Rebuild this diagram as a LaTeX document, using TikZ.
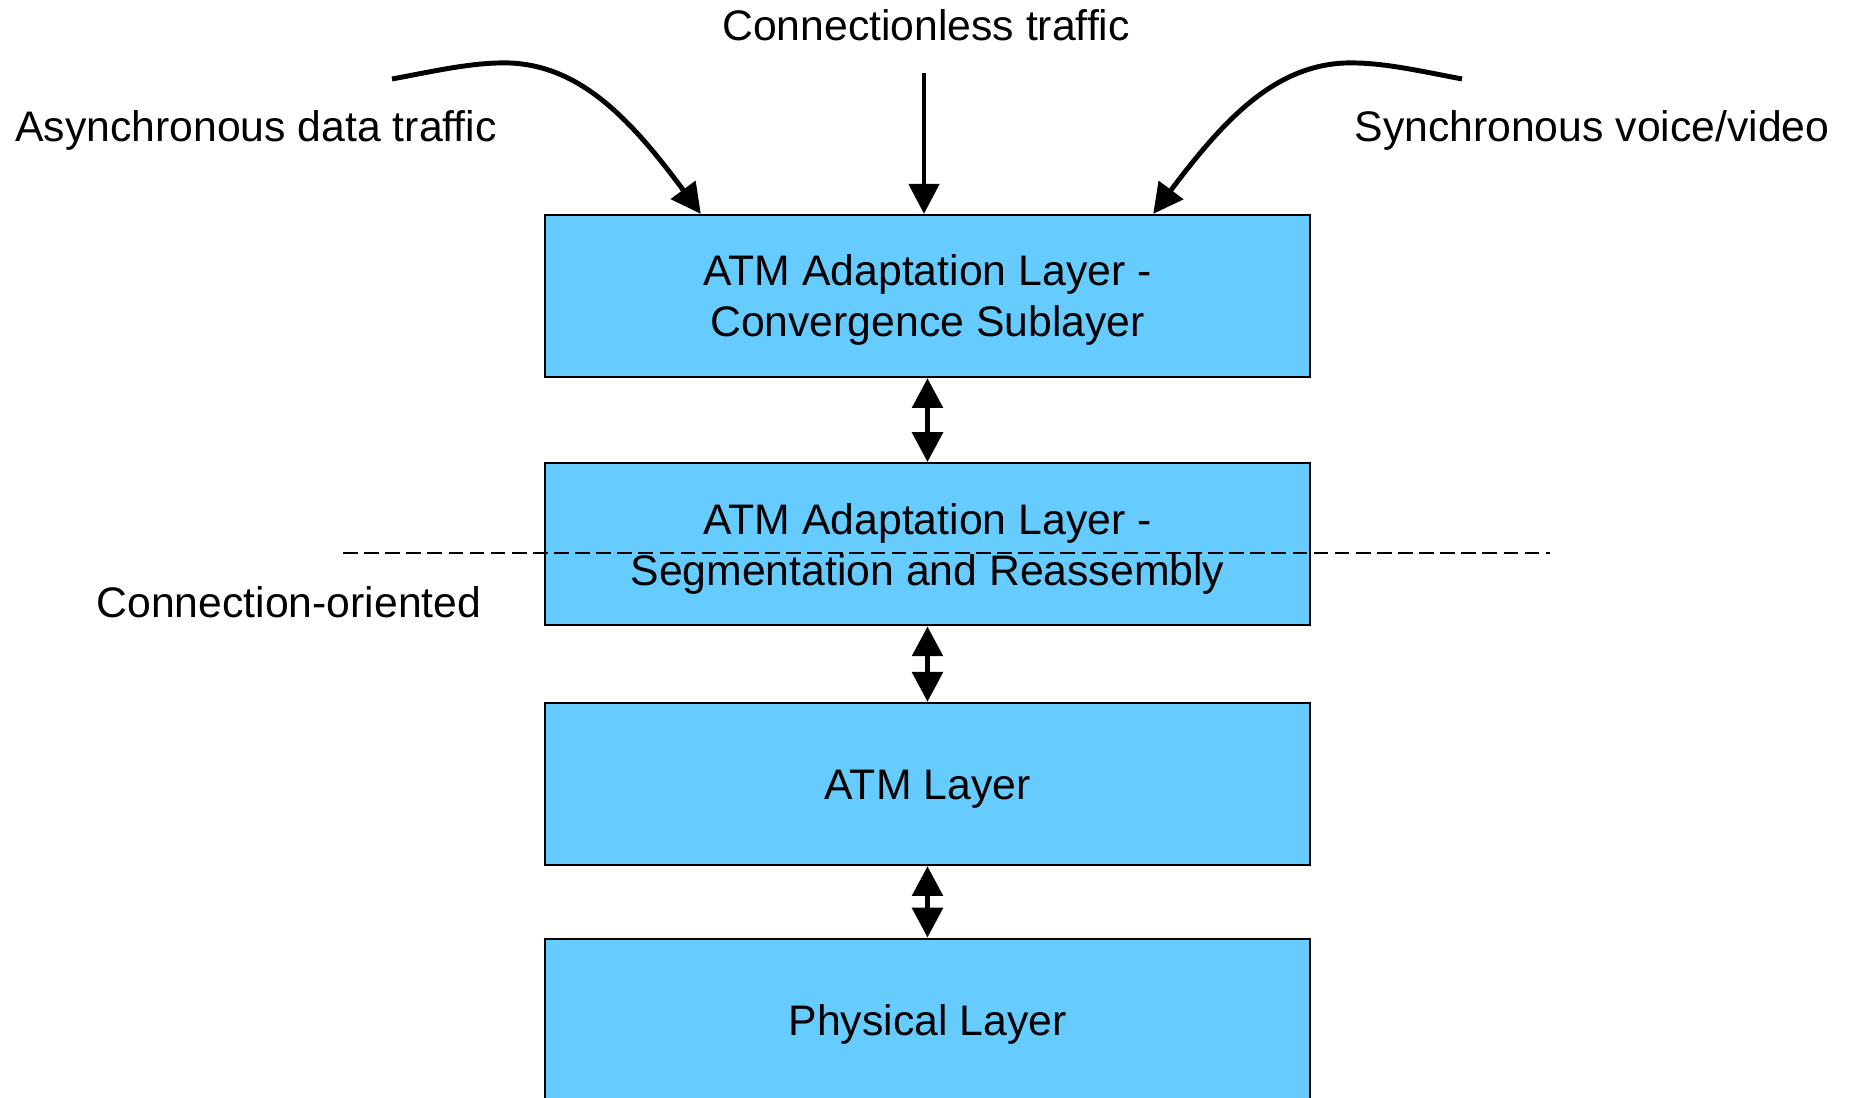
\documentclass[tikz,border=0pt]{standalone}
\usepackage{fontspec}
\setmainfont{Liberation Sans}
\usetikzlibrary{arrows.meta,positioning}
\definecolor{LayerBlue}{HTML}{66CCFF}
\tikzset{
  layer/.style={draw=black, fill=LayerBlue, line width=0.6pt, minimum width=7.65cm,
                minimum height=1.62cm, align=center, inner sep=0pt,
                font=\fontsize{12.15}{14.5}\selectfont,
                execute at begin node={\rule{0pt}{11.6pt}}},
  twoline/.style={layer, text depth=0pt},
  plain/.style={anchor=base, inner sep=0pt, font=\fontsize{12.15}{14.5}\selectfont},
  feed/.style={-{Triangle[length=8.5pt,width=8.5pt]}, line width=1.4pt},
  link/.style={{Triangle[length=8.5pt,width=8.5pt]}-{Triangle[length=8.5pt,width=8.5pt]}, line width=1.7pt},
  divider/.style={line width=0.5pt, dash pattern=on 4.2pt off 1.8pt},
}
\begin{document}
\begin{tikzpicture}[x=0.01cm, y=-0.01cm]
  \useasboundingbox (0,0) rectangle (1851,1098);
  \node[twoline] (cs) at (927.5,296) {ATM Adaptation Layer -\\ Convergence Sublayer};
  \node[twoline,below=0.84cm of cs] (sar) {ATM Adaptation Layer -\\Segmentation and Reassembly};
  \node[layer,below=0.755cm of sar] (atm) {ATM Layer};
  \node[layer,below=0.715cm of atm] (phy) {Physical Layer};
  \node[plain] (cl) at (926,41) {Connectionless traffic};
  \node[plain] (async) at (256,142) {Asynchronous data traffic};
  \node[plain] (sync) at (1592,142) {Synchronous voice/video};
  \node[plain] (co) at (289,618) {Connection-oriented};
  \coordinate (clfrom) at (924,73);
  \coordinate (asyncfrom) at (392,79);
  \coordinate (syncfrom) at (1462,79);
  \coordinate (dashL) at (343,553);
  \coordinate (dashR) at (1550,553);
  \draw[feed] (clfrom) -- (clfrom |- cs.north);
  \draw[feed] (asyncfrom) .. controls (440,70) and (475,62) .. (510,63)
    .. controls (580,66) and (630,118) .. ([xshift=1.57cm]cs.north west);
  \draw[feed] (syncfrom) .. controls (1415,70) and (1380,62) .. (1345,63)
    .. controls (1275,66) and (1225,118) .. ([xshift=-1.58cm]cs.north east);
  \draw[link] (cs.south) -- (sar.north);
  \draw[link] (sar.south) -- (atm.north);
  \draw[link] (atm.south) -- (phy.north);
  \draw[divider] (dashL) -- (dashR);
\end{tikzpicture}
\end{document}
